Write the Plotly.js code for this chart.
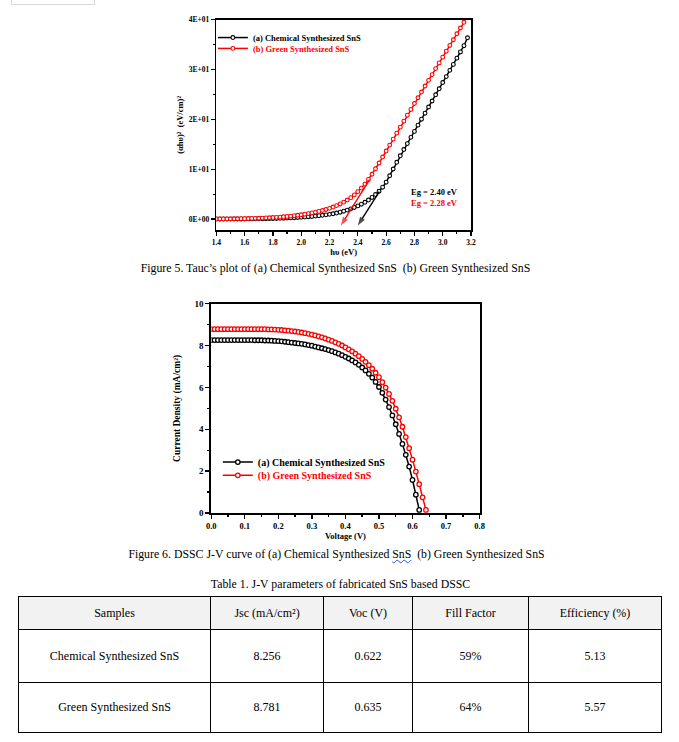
<!DOCTYPE html>
<html>
<head>
<meta charset="utf-8">
<script src="https://cdn.plot.ly/plotly-3.0.1.min.js"></script>
<style>
  body{margin:0;background:#fff;width:679px;height:742px;overflow:hidden;position:relative;font-family:"Liberation Serif","Times New Roman",serif;color:#000;}
  #chart{position:absolute;left:0;top:0;width:679px;height:742px;}
  .cap{position:absolute;width:679px;text-align:center;font-size:11.8px;line-height:14px;white-space:nowrap;}
  .wavy{text-decoration:underline wavy #3050e0;text-decoration-thickness:1px;}
  #topbox{position:absolute;left:11px;top:-10px;width:82px;height:13px;border:1px solid #d8d8d8;}
  #tbl{position:absolute;left:18px;top:596px;border-collapse:collapse;font-size:12px;}
  #tbl td{border:1px solid #000;text-align:center;padding:0;}
  #tbl tr.head td{background:#f2f2f2;}
</style>
</head>
<body>
<div id="topbox"></div>
<div id="chart"></div>
<div class="cap" style="left:-4px;top:261px;">Figure 5. Tauc’s plot of (a) Chemical Synthesized SnS&nbsp; (b) Green Synthesized SnS</div>
<div class="cap" style="left:-3px;top:547px;">Figure 6. DSSC J-V curve of (a) Chemical Synthesized <span class="wavy">SnS</span>&nbsp; (b) Green Synthesized SnS</div>
<div class="cap" style="left:1px;top:577px;">Table 1. J-V parameters of fabricated SnS based DSSC</div>
<table id="tbl"></table>
<script>
// ---------- Tauc plot data ----------
const taucEnergy = [1.4,1.425,1.45,1.475,1.5,1.525,1.55,1.575,1.6,1.625,1.65,1.675,1.7,1.725,1.75,1.775,
  1.8,1.825,1.85,1.875,1.9,1.925,1.95,1.975,2.0,2.025,2.05,2.075,2.1,2.125,2.15,2.175,
  2.2,2.225,2.25,2.275,2.3,2.325,2.35,2.375,2.4,2.425,2.45,2.475,2.5,2.525,2.55,2.575,
  2.6,2.625,2.65,2.675,2.7,2.725,2.75,2.775,2.8,2.825,2.85,2.875,2.9,2.925,2.95,2.975,
  3.0,3.025,3.05,3.075,3.1,3.125,3.15,3.175];
const taucChemical = [0,0,0,0, 0.01,0.01,0.01,0.02, 0.02,0.03,0.03,0.04, 0.05,0.06,0.07,0.08,
  0.10,0.12,0.14,0.17, 0.20,0.23,0.27,0.31, 0.35,0.41,0.47,0.53, 0.60,0.68,0.76,0.85,
  0.95,1.07,1.21,1.38, 1.58,1.80,2.05,2.33, 2.64,2.98,3.37,3.82, 4.34,4.92,5.58,6.40,
  7.40,8.70,10.05,11.40, 12.70,13.95,15.15,16.40, 17.60,18.85,20.05,21.25, 22.50,23.70,24.95,26.15,
  27.40,28.60,29.85,31.05, 32.30,33.55,34.80,36.40];
const taucGreen = [0.02,0.02,0.03,0.03, 0.04,0.05,0.06,0.07, 0.08,0.10,0.12,0.14, 0.16,0.19,0.22,0.26,
  0.30,0.35,0.40,0.46, 0.53,0.60,0.68,0.77, 0.87,0.98,1.10,1.23, 1.38,1.54,1.72,1.92,
  2.15,2.41,2.70,3.03, 3.40,3.82,4.30,4.85, 5.50,6.22,7.02,7.95, 9.00,10.10,11.25,12.45,
  13.65,14.85,16.05,17.25, 18.45,19.65,20.85,22.00, 23.20,24.35,25.50,26.70, 27.85,29.00,30.20,31.35,
  32.50,33.70,34.85,36.00, 37.20,38.35,39.50];
const taucYTicks = [0,10,20,30,40];
const taucYTickText = ['0E+00','1E+01','2E+01','3E+01','4E+01'];
const bandGap = [2.40, 2.28];                  // Eg (eV): chemical, green
const tangentFrom = [[2.552,5.5],[2.483,7.9]]; // upper end of each tangent line
const tangentTipY = -1.3;
const bandGapLabels = ['Eg = 2.40 eV','Eg = 2.28 eV'];

// ---------- J-V data ----------
const voltage = [0,0.01,0.02,0.03,0.04,0.05,0.06,0.07,0.08,0.09,0.1,0.11,0.12,0.13,0.14,0.15,0.16,0.17,0.18,0.19,
  0.2,0.21,0.22,0.23,0.24,0.25,0.26,0.27,0.28,0.29,0.3,0.31,0.32,0.33,0.34,0.35,0.36,0.37,0.38,0.39,
  0.4,0.41,0.42,0.43,0.44,0.45,0.46,0.47,0.48,0.49,0.5,0.51,0.52,0.53,0.54,0.55,0.56,0.57,0.58,0.59,
  0.6,0.61,0.62,0.63,0.64];
const jChemical = [8.26,8.26,8.26,8.26,8.26,8.26,8.26,8.26,8.26,8.26,
  8.26,8.26,8.26,8.25,8.25,8.25,8.24,8.24,8.23,8.22,
  8.21,8.20,8.18,8.16,8.14,8.12,8.10,8.08,8.05,8.02,
  7.99,7.95,7.91,7.87,7.83,7.78,7.73,7.67,7.61,7.54,
  7.46,7.38,7.29,7.19,7.08,6.95,6.81,6.65,6.47,6.26,
  6.02,5.74,5.42,5.06,4.66,4.24,3.78,3.30,2.78,2.22,
  1.58,0.88,0.15];
const jGreen = [8.78,8.78,8.78,8.78,8.78,8.78,8.78,8.78,8.78,8.78,
  8.78,8.78,8.78,8.78,8.78,8.78,8.78,8.77,8.77,8.76,
  8.75,8.74,8.72,8.71,8.69,8.67,8.65,8.62,8.59,8.56,
  8.52,8.48,8.44,8.39,8.34,8.28,8.22,8.15,8.08,8.00,
  7.91,7.82,7.72,7.61,7.49,7.36,7.22,7.06,6.89,6.70,
  6.49,6.25,5.99,5.69,5.36,4.98,4.57,4.12,3.63,3.10,
  2.55,1.98,1.38,0.75,0.15];

const seriesNames = ['(a) Chemical Synthesized SnS','(b) Green Synthesized SnS'];
const seriesColors = ['#000000','#ff0000'];

// ---------- Table data ----------
const tableHeaders = ['Samples','Jsc (mA/cm²)','Voc (V)','Fill Factor','Efficiency (%)'];
const tableSamples = ['Chemical Synthesized SnS','Green Synthesized SnS'];
const tableJsc = ['8.256','8.781'];
const tableVoc = ['0.622','0.635'];
const tableFF = ['59%','64%'];
const tableEff = ['5.13','5.57'];

// build table
(function(){
  const widths=[191,112,88,115,132];
  const heights=[33,53,50];
  const tbl=document.getElementById('tbl');
  let h='<tr class="head" style="height:'+heights[0]+'px">';
  tableHeaders.forEach((t,i)=>{h+='<td style="width:'+widths[i]+'px">'+t+'</td>';});
  h+='</tr>';
  for(let r=0;r<tableSamples.length;r++){
    h+='<tr style="height:'+heights[r+1]+'px"><td>'+tableSamples[r]+'</td><td>'+tableJsc[r]+'</td><td>'+tableVoc[r]+'</td><td>'+tableFF[r]+'</td><td>'+tableEff[r]+'</td></tr>';
  }
  tbl.innerHTML=h;
})();

const FF = '"Liberation Serif", "Times New Roman", serif';
const W = 679, H = 742;
const px = v => v / W, py = v => 1 - v / H;

const traces = [
  {x: taucEnergy, y: taucChemical, name: seriesNames[0], xaxis:'x', yaxis:'y', legend:'legend',
   mode:'lines+markers', line:{color:seriesColors[0], width:1.5},
   marker:{symbol:'circle', size:3.8, color:'#ffffff', line:{color:seriesColors[0], width:1.1}}},
  {x: taucEnergy.slice(0, taucGreen.length), y: taucGreen, name: seriesNames[1], xaxis:'x', yaxis:'y', legend:'legend2',
   mode:'lines+markers', line:{color:seriesColors[1], width:1.5},
   marker:{symbol:'circle', size:3.8, color:'#ffffff', line:{color:seriesColors[1], width:1.1}}},
  {x: voltage.slice(0, jChemical.length), y: jChemical, name: seriesNames[0], xaxis:'x2', yaxis:'y2', legend:'legend3',
   mode:'lines+markers', line:{color:seriesColors[0], width:1.5},
   marker:{symbol:'circle', size:4.5, color:'#ffffff', line:{color:seriesColors[0], width:1.3}}},
  {x: voltage.slice(0, jGreen.length), y: jGreen, name: seriesNames[1], xaxis:'x2', yaxis:'y2', legend:'legend4',
   mode:'lines+markers', line:{color:seriesColors[1], width:1.5},
   marker:{symbol:'circle', size:4.5, color:'#ffffff', line:{color:seriesColors[1], width:1.3}}}
];
// tangent lines with arrowheads (extrapolation to Eg)
bandGap.forEach((eg,i)=>{
  traces.push({x:[tangentFrom[i][0], eg], y:[tangentFrom[i][1], tangentTipY], xaxis:'x', yaxis:'y',
    mode:'lines+markers', showlegend:false, cliponaxis:false, hoverinfo:'skip',
    line:{color:seriesColors[i], width:1.4},
    marker:{symbol:'arrow', angleref:'previous', size:[0,9], color:seriesColors[i], line:{width:0}}});
});

const axisCommon = {showgrid:false, zeroline:false, showline:true, linecolor:'#000', mirror:true,
  ticks:'outside', tickcolor:'#000', ticklen:4, fixedrange:true};

function legendAt(x, y, size, color){
  return {x:px(x), y:py(y), xanchor:'left', yanchor:'middle', bgcolor:'rgba(0,0,0,0)', borderwidth:0,
    font:{family:FF, size:size, color:color, weight:'bold'}};
}

const annotations = bandGapLabels.map((t,i)=>({xref:'x', yref:'y', x:2.762, y:[5.35,3.2][i], text:t, showarrow:false,
    xanchor:'left', yanchor:'middle', font:{family:FF, size:8.5, color:seriesColors[i], weight:'bold'}}));

const layout = {
  width:W, height:H, margin:{l:0,r:0,t:0,b:0}, showlegend:true,
  paper_bgcolor:'rgba(0,0,0,0)', plot_bgcolor:'rgba(0,0,0,0)',
  font:{family:FF, color:'#000'},
  xaxis: Object.assign({}, axisCommon, {domain:[px(214.5), px(473)], anchor:'y', range:[1.4,3.2],
    tickvals:[1.4,1.6,1.8,2.0,2.2,2.4,2.6,2.8,3.0,3.2], ticktext:['1.4','1.6','1.8','2.0','2.2','2.4','2.6','2.8','3.0','3.2'],
    linewidth:1.6, tickwidth:1.2, tickfont:{family:FF, size:7.5, weight:'bold'},
    minor:{ticks:'outside', ticklen:2, tickcolor:'#000', dtick:0.1, tick0:1.4},
    title:{text:'hυ (eV)', font:{family:FF, size:8.5, weight:'bold'}, standoff:2}, automargin:true}),
  yaxis: Object.assign({}, axisCommon, {domain:[py(228), py(15)], anchor:'x', range:[-2.18,40],
    tickvals:taucYTicks, ticktext:taucYTickText, linewidth:1.6, tickwidth:1.2,
    tickfont:{family:FF, size:7.5, weight:'bold'},
    minor:{ticks:'outside', ticklen:2, tickcolor:'#000', dtick:5, tick0:0},
    title:{text:'(αhυ)²  (eV/cm)²', font:{family:FF, size:8.5, weight:'bold'}, standoff:4}, automargin:true}),
  xaxis2: Object.assign({}, axisCommon, {domain:[px(209.3), px(481.7)], anchor:'y2', range:[0,0.8],
    tickvals:[0,0.1,0.2,0.3,0.4,0.5,0.6,0.7,0.8], ticktext:['0.0','0.1','0.2','0.3','0.4','0.5','0.6','0.7','0.8'],
    linewidth:2, tickwidth:1.4, tickfont:{family:FF, size:8.5, weight:'bold'},
    minor:{ticks:'outside', ticklen:2, tickcolor:'#000', dtick:0.05, tick0:0},
    title:{text:'Voltage (V)', font:{family:FF, size:8.5, weight:'bold'}, standoff:3}, automargin:true}),
  yaxis2: Object.assign({}, axisCommon, {domain:[py(515), py(302.7)], anchor:'x2', range:[0,10],
    tickvals:[0,2,4,6,8,10], ticktext:['0','2','4','6','8','10'],
    linewidth:2, tickwidth:1.4, tickfont:{family:FF, size:9, weight:'bold'},
    minor:{ticks:'outside', ticklen:2, tickcolor:'#000', dtick:1, tick0:0},
    title:{text:'Current Density (mA/cm²)', font:{family:FF, size:9.5, weight:'bold'}, standoff:12}, automargin:true}),
  legend: legendAt(211, 33, 8.5, seriesColors[0]),
  legend2: legendAt(211, 44, 8.5, seriesColors[1]),
  legend3: legendAt(216, 463.3, 10, seriesColors[0]),
  legend4: legendAt(216, 476.7, 10, seriesColors[1]),
  annotations: annotations
};

Plotly.newPlot('chart', traces, layout, {staticPlot:true, displayModeBar:false});
</script>
</body>
</html>
